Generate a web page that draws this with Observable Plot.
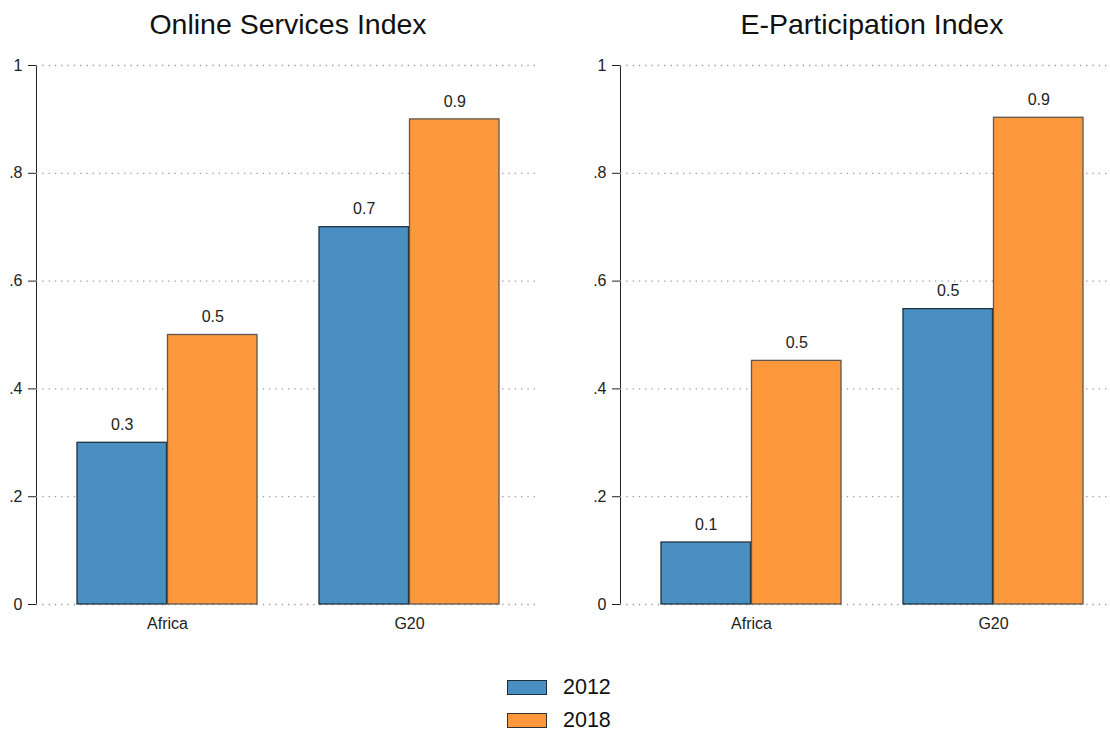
<!DOCTYPE html>
<html>
<head>
<meta charset="utf-8">
<script src="https://cdn.jsdelivr.net/npm/d3@7"></script>
<script src="https://cdn.jsdelivr.net/npm/@observablehq/plot@0.6"></script>
<style>
  html, body { margin: 0; padding: 0; background: #fff; }
  #root { position: relative; width: 1110px; height: 730px; overflow: hidden;
          font-family: "Liberation Sans", Arial, sans-serif; color: #111; }
  .title { position: absolute; top: 8px; font-size: 28.5px; width: 500px; margin-left: -250px;
           text-align: center; white-space: nowrap; }
  .panel { position: absolute; top: 50px; width: 560px; height: 600px; }
  .panel svg { max-width: none !important; width: 560px; height: 600px; }
  .lg-row { position: absolute; left: 507px; display: flex; align-items: center; height: 18px; }
  .lg-sw { width: 38px; height: 13px; border: 1.2px solid #222; }
  .lg-tx { margin-left: 16px; font-size: 21.5px; }
</style>
</head>
<body>
<div id="root"></div>
<script>
// ---- data ----
const regions = ["Africa", "G20"];
const years = ["2012", "2018"];
const titles = ["Online Services Index", "E-Participation Index"];
const osi2012 = [0.30, 0.70];
const osi2018 = [0.50, 0.90];
const epi2012 = [0.115, 0.548];
const epi2018 = [0.452, 0.903];
const yTicks = [0, 0.2, 0.4, 0.6, 0.8, 1];
const yTickLabels = ["0", ".2", ".4", ".6", ".8", "1"];
const fills = ["#4a8fc1", "#fd983d"];
const strokes = ["#1f3344", "#5f5750"];

const panels = [
  {title: titles[0], series: [osi2012, osi2018]},
  {title: titles[1], series: [epi2012, epi2018]}
];

// ---- layout ----
const W = 560, H = 600, mL = 36, mR = 20, mT = 15, mB = 46;
const pInner = 0.2551, pOuter = 0.1646;
const innerW = W - mL - mR;
const step = innerW / (regions.length - pInner + 2 * pOuter);
const bw = step * (1 - pInner);
const panelLeft = [0, 584];

const root = document.getElementById("root");

panels.forEach((p, k) => {
  const rows = [];
  years.forEach((yr, j) => regions.forEach((r, i) => rows.push({region: r, year: yr, j, value: p.series[j][i]})));

  const marks = [
    Plot.gridY(yTicks, {stroke: "#9a9a9a", strokeOpacity: 1, strokeWidth: 1.3, strokeDasharray: "1.3,5"})
  ];
  years.forEach((yr, j) => {
    const d = rows.filter(r => r.year === yr);
    marks.push(Plot.barY(d, {
      x: "region", y: "value", fill: fills[j], stroke: strokes[j], strokeWidth: 1.3,
      insetLeft: j === 0 ? 0 : bw / 2, insetRight: j === 0 ? bw / 2 : 0
    }));
    marks.push(Plot.text(d, {
      x: "region", y: "value", text: r => d3.format(".1f")(r.value),
      dx: (j === 0 ? -1 : 1) * bw / 4, dy: -18, fontSize: 16, fill: "#222"
    }));
  });

  const svg = Plot.plot({
    width: W, height: H,
    marginLeft: mL, marginRight: mR, marginTop: mT, marginBottom: mB,
    style: {fontSize: "16px", fontFamily: "'Liberation Sans', Arial, sans-serif", color: "#222", background: "transparent", overflow: "visible", maxWidth: "none"},
    x: {domain: regions, paddingInner: pInner, paddingOuter: pOuter, tickSize: 0, tickPadding: 13, label: null},
    y: {domain: [0, 1], ticks: yTicks, tickFormat: d => yTickLabels[yTicks.findIndex(t => Math.abs(t - d) < 1e-9)],
        tickSize: 8, tickPadding: 6, line: true, label: null},
    marks
  });
  svg.style.maxWidth = "none";
  const wrap = document.createElement("div");
  wrap.className = "panel";
  wrap.style.left = panelLeft[k] + "px";
  wrap.appendChild(svg);
  root.appendChild(wrap);

  const t = document.createElement("div");
  t.className = "title";
  t.textContent = p.title;
  t.style.left = (panelLeft[k] + mL + innerW / 2) + "px";
  root.appendChild(t);
});

// ---- legend ----
years.forEach((yr, j) => {
  const row = document.createElement("div");
  row.className = "lg-row";
  row.style.top = (678 + j * 33) + "px";
  const sw = document.createElement("div");
  sw.className = "lg-sw";
  sw.style.background = fills[j];
  sw.style.borderColor = j === 0 ? "#1d2d3a" : "#333";
  const tx = document.createElement("span");
  tx.className = "lg-tx";
  tx.textContent = yr;
  row.appendChild(sw);
  row.appendChild(tx);
  root.appendChild(row);
});
</script>
</body>
</html>
